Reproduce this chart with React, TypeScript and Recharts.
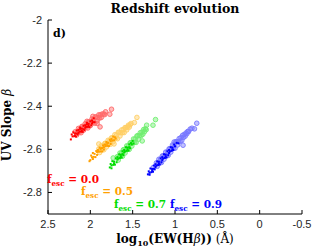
import { ScatterChart, Scatter, XAxis, YAxis } from 'recharts';

const X_TICKS = [2.5, 2, 1.5, 1, 0.5, 0, -0.5];
const Y_TICKS = [-2.8, -2.6, -2.4, -2.2, -2];

// [log10 EW(Hb), beta]
const redDots = [
  [2.23, -2.554], [2.22, -2.531], [2.21, -2.54], [2.2, -2.521], [2.19, -2.539], [2.18, -2.526],
  [2.17, -2.541], [2.16, -2.513], [2.15, -2.532], [2.14, -2.51], [2.13, -2.518], [2.12, -2.499],
  [2.11, -2.518], [2.1, -2.504], [2.09, -2.519], [2.08, -2.491], [2.07, -2.511], [2.06, -2.488],
  [2.05, -2.496], [2.04, -2.477], [2.03, -2.496], [2.02, -2.482], [2.01, -2.497], [2.0, -2.47],
  [1.99, -2.489], [1.98, -2.466], [1.97, -2.474], [1.96, -2.456], [1.95, -2.474],
  [2.18, -2.536], [2.14, -2.524], [2.1, -2.514], [2.06, -2.5], [2.02, -2.491], [1.98, -2.48],
  [2.12, -2.505], [2.04, -2.484], [2.16, -2.527], [2.08, -2.507],
];
const redCircles = [
  [2.18, -2.519], [2.16, -2.533], [2.15, -2.518], [2.14, -2.503], [2.13, -2.52], [2.12, -2.505],
  [2.11, -2.523], [2.1, -2.494], [2.09, -2.494], [2.08, -2.511], [2.07, -2.497], [2.06, -2.481],
  [2.05, -2.498], [2.04, -2.483], [2.03, -2.501], [2.02, -2.472], [2.01, -2.472], [2.0, -2.49],
  [1.99, -2.475], [1.98, -2.459], [1.97, -2.476], [1.96, -2.462], [1.95, -2.479], [1.94, -2.45],
  [1.93, -2.45], [1.92, -2.468], [1.91, -2.453], [1.9, -2.44], [1.89, -2.455], [1.88, -2.44],
  [1.87, -2.452], [1.86, -2.436], [1.84, -2.436], [1.83, -2.439], [1.82, -2.426],
  [1.77, -2.437], [1.75, -2.414], [1.885, -2.496], [1.97, -2.447], [2.04, -2.47], [1.92, -2.48],
];
const orangeDots = [
  [2.0, -2.65], [1.99, -2.629], [1.98, -2.637], [1.97, -2.617], [1.96, -2.635], [1.95, -2.621],
  [1.94, -2.636], [1.93, -2.608], [1.92, -2.626], [1.91, -2.603], [1.9, -2.611], [1.89, -2.592],
  [1.88, -2.61], [1.87, -2.595], [1.86, -2.61], [1.85, -2.582], [1.84, -2.601], [1.83, -2.578],
  [1.82, -2.585], [1.81, -2.566], [1.8, -2.584], [1.79, -2.57], [1.78, -2.585], [1.77, -2.556],
  [1.76, -2.575], [1.75, -2.552], [1.74, -2.56], [1.73, -2.541], [1.72, -2.558], [1.71, -2.544],
  [1.7, -2.55], [1.92, -2.612], [1.88, -2.598], [1.84, -2.59], [1.8, -2.574], [1.76, -2.562],
  [1.86, -2.594], [1.82, -2.578], [2.01, -2.655], [1.97, -2.645],
];
const orangeCircles = [
  [1.9, -2.598], [1.89, -2.615], [1.88, -2.6], [1.87, -2.583], [1.86, -2.6], [1.85, -2.585],
  [1.84, -2.602], [1.83, -2.573], [1.82, -2.572], [1.81, -2.589], [1.8, -2.574], [1.79, -2.558],
  [1.78, -2.575], [1.77, -2.559], [1.76, -2.576], [1.75, -2.547], [1.74, -2.547], [1.73, -2.564],
  [1.72, -2.548], [1.71, -2.532], [1.7, -2.549], [1.69, -2.534], [1.68, -2.551], [1.67, -2.521],
  [1.66, -2.521], [1.65, -2.538], [1.64, -2.523], [1.63, -2.51], [1.62, -2.523], [1.61, -2.508],
  [1.6, -2.522], [1.59, -2.499], [1.58, -2.5], [1.57, -2.51], [1.56, -2.496], [1.55, -2.488],
  [1.54, -2.497], [1.53, -2.486], [1.48, -2.476], [1.45, -2.452], [1.52, -2.48], [1.9, -2.575],
  [1.72, -2.575],
];
const greenDots = [
  [1.77, -2.684], [1.76, -2.668], [1.75, -2.675], [1.74, -2.655], [1.73, -2.672], [1.72, -2.657],
  [1.71, -2.671], [1.7, -2.642], [1.69, -2.66], [1.68, -2.636], [1.67, -2.643], [1.66, -2.623],
  [1.65, -2.64], [1.64, -2.625], [1.63, -2.638], [1.62, -2.609], [1.61, -2.627], [1.6, -2.603],
  [1.59, -2.61], [1.58, -2.59], [1.57, -2.607], [1.56, -2.592], [1.55, -2.606], [1.54, -2.577],
  [1.53, -2.595], [1.52, -2.571], [1.51, -2.578], [1.5, -2.561], [1.49, -2.573],
  [1.68, -2.648], [1.64, -2.632], [1.6, -2.615], [1.56, -2.6], [1.72, -2.665], [1.62, -2.622],
  [1.54, -2.59], [1.75, -2.688],
];
const greenCircles = [
  [1.68, -2.634], [1.67, -2.65], [1.66, -2.634], [1.65, -2.617], [1.64, -2.633], [1.63, -2.616],
  [1.62, -2.632], [1.61, -2.602], [1.6, -2.601], [1.59, -2.617], [1.58, -2.601], [1.57, -2.584],
  [1.56, -2.6], [1.55, -2.584], [1.54, -2.6], [1.53, -2.57], [1.52, -2.569], [1.51, -2.585],
  [1.5, -2.569], [1.49, -2.552], [1.48, -2.568], [1.47, -2.552], [1.46, -2.568], [1.45, -2.538],
  [1.44, -2.537], [1.43, -2.553], [1.42, -2.536], [1.41, -2.523], [1.4, -2.536], [1.39, -2.52],
  [1.38, -2.53], [1.37, -2.508], [1.36, -2.518], [1.35, -2.505], [1.34, -2.509],
  [1.73, -2.64], [1.335, -2.488], [1.26, -2.488], [1.23, -2.462], [1.387, -2.561],
];
const blueDots = [
  [1.32, -2.716], [1.31, -2.702], [1.3, -2.709], [1.29, -2.689], [1.28, -2.706], [1.27, -2.691],
  [1.26, -2.704], [1.25, -2.675], [1.24, -2.693], [1.23, -2.669], [1.22, -2.676], [1.21, -2.656],
  [1.2, -2.673], [1.19, -2.658], [1.18, -2.671], [1.17, -2.642], [1.16, -2.66], [1.15, -2.636],
  [1.14, -2.643], [1.13, -2.623], [1.12, -2.64], [1.11, -2.625], [1.1, -2.638], [1.09, -2.609],
  [1.08, -2.627], [1.07, -2.603], [1.06, -2.61], [1.05, -2.59], [1.04, -2.607], [1.03, -2.592],
  [1.02, -2.603], [1.01, -2.578], [1.0, -2.586], [0.98, -2.57], [0.96, -2.572],
  [1.27, -2.7], [1.23, -2.682], [1.19, -2.667], [1.15, -2.65], [1.11, -2.633], [1.07, -2.617],
  [1.03, -2.6], [1.3, -2.718], [1.25, -2.69],
];
const blueCircles = [
  [1.22, -2.663], [1.21, -2.679], [1.2, -2.663], [1.19, -2.646], [1.18, -2.661], [1.17, -2.645],
  [1.16, -2.661], [1.15, -2.631], [1.14, -2.63], [1.13, -2.646], [1.12, -2.63], [1.11, -2.613],
  [1.1, -2.629], [1.09, -2.612], [1.08, -2.628], [1.07, -2.598], [1.06, -2.597], [1.05, -2.613],
  [1.04, -2.597], [1.03, -2.58], [1.02, -2.596], [1.01, -2.579], [1.0, -2.595], [0.99, -2.565],
  [0.98, -2.564], [0.97, -2.58], [0.96, -2.564], [0.95, -2.55], [0.94, -2.563], [0.93, -2.546],
  [0.92, -2.559], [0.91, -2.535], [0.9, -2.545], [0.89, -2.531], [0.88, -2.539], [0.87, -2.524],
  [0.86, -2.528], [0.85, -2.517], [0.84, -2.518], [0.82, -2.506],
  [1.258, -2.685], [0.8, -2.502], [0.77, -2.505], [0.743, -2.479], [0.905, -2.581], [1.01, -2.566],
];

const toRows = (pts: number[][]) => pts.map(([x, y]) => ({ x, y }));

const groups = [
  { dots: redDots, circles: redCircles, dark: '#ff0000', light: '#ff6a6a' },
  { dots: orangeDots, circles: orangeCircles, dark: '#ffa000', light: '#ffcf66' },
  { dots: greenDots, circles: greenCircles, dark: '#00dd00', light: '#70ee70' },
  { dots: blueDots, circles: blueCircles, dark: '#0000ff', light: '#7878ff' },
];

const circleShape = (color: string) => (p: any) =>
  <circle cx={p.cx} cy={p.cy} r={2.3} fill={color} fillOpacity={0.45} stroke={color} strokeWidth={0.9} />;
const dotShape = (color: string) => (p: any) =>
  <rect x={p.cx - 1} y={p.cy - 1} width={2} height={2} fill={color} />;

const tickFont = { fontFamily: 'Liberation Sans', fontSize: 11, fill: '#262626' };
const serif = 'DejaVu Serif';

const fescLabels = [
  { x: 47, y: 183, c: '#ff0000', v: '0.0' },
  { x: 81, y: 195, c: '#ffa000', v: '0.5' },
  { x: 114, y: 208, c: '#00dd00', v: '0.7' },
  { x: 170, y: 208, c: '#0000ff', v: '0.9' },
];

export default function App() {
  return (
    <div style={{ position: 'absolute', left: 0, top: 0, width: 334, height: 250 }}>
      <ScatterChart width={334} height={250} margin={{ top: 20, right: 32, bottom: 0, left: 0 }}>
        <XAxis xAxisId="b" type="number" dataKey="x" domain={[-0.5, 2.5]} reversed ticks={X_TICKS}
          interval={0} allowDataOverflow tickSize={-4} tickMargin={10} height={36}
          tick={tickFont} axisLine={{ stroke: '#000' }} tickLine={{ stroke: '#000' }} />
        <XAxis xAxisId="t" orientation="top" type="number" dataKey="x" domain={[-0.5, 2.5]} reversed
          ticks={X_TICKS} interval={0} allowDataOverflow tickSize={-4} height={0}
          tickFormatter={() => ''} axisLine={{ stroke: '#000' }} tickLine={{ stroke: '#000' }} />
        <YAxis yAxisId="l" type="number" dataKey="y" domain={[-2.9, -2]} ticks={Y_TICKS} interval={0}
          allowDataOverflow tickSize={-4} tickMargin={10} width={48} tick={tickFont}
          axisLine={{ stroke: '#000' }} tickLine={{ stroke: '#000' }} />
        <YAxis yAxisId="r" orientation="right" type="number" dataKey="y" domain={[-2.9, -2]} ticks={Y_TICKS}
          interval={0} allowDataOverflow tickSize={-4} width={0} tickFormatter={() => ''}
          axisLine={{ stroke: '#000' }} tickLine={{ stroke: '#000' }} />
        {groups.map((g, i) => (
          <Scatter key={'c' + i} xAxisId="b" yAxisId="l" data={toRows(g.circles)}
            shape={circleShape(g.light)} isAnimationActive={false} />
        ))}
        {groups.map((g, i) => (
          <Scatter key={'d' + i} xAxisId="b" yAxisId="l" data={toRows(g.dots)}
            shape={dotShape(g.dark)} isAnimationActive={false} />
        ))}
      </ScatterChart>
      <svg width={334} height={250} style={{ position: 'absolute', left: 0, top: 0, pointerEvents: 'none' }}>
        <text x={175} y={13} textAnchor="middle" fontFamily={serif} fontWeight="bold" fontSize={12.5}>
          Redshift evolution
        </text>
        <text x={53} y={37} fontFamily={serif} fontWeight="bold" fontSize={11}>d)</text>
        <text transform="translate(11,125) rotate(-90)" textAnchor="middle" fontFamily={serif} fontSize={12}>
          <tspan fontWeight="bold">UV Slope </tspan><tspan fontStyle="italic">β</tspan>
        </text>
        <text x={175} y={243} textAnchor="middle" fontFamily={serif} fontSize={12}>
          <tspan fontWeight="bold">log</tspan>
          <tspan fontWeight="bold" fontSize={8} dy={3}>10</tspan>
          <tspan fontWeight="bold" dy={-3}>(EW(H</tspan>
          <tspan fontStyle="italic">β</tspan>
          <tspan fontWeight="bold">))</tspan>
          <tspan> (Å)</tspan>
        </text>
        {fescLabels.map((l) => (
          <text key={l.v} x={l.x} y={l.y} fill={l.c} fontFamily={serif} fontWeight="bold" fontSize={11}
            textLength={52} lengthAdjust="spacingAndGlyphs">
            <tspan>f</tspan>
            <tspan fontSize={7.5} dy={3}>esc</tspan>
            <tspan dy={-3}> = {l.v}</tspan>
          </text>
        ))}
      </svg>
    </div>
  );
}
